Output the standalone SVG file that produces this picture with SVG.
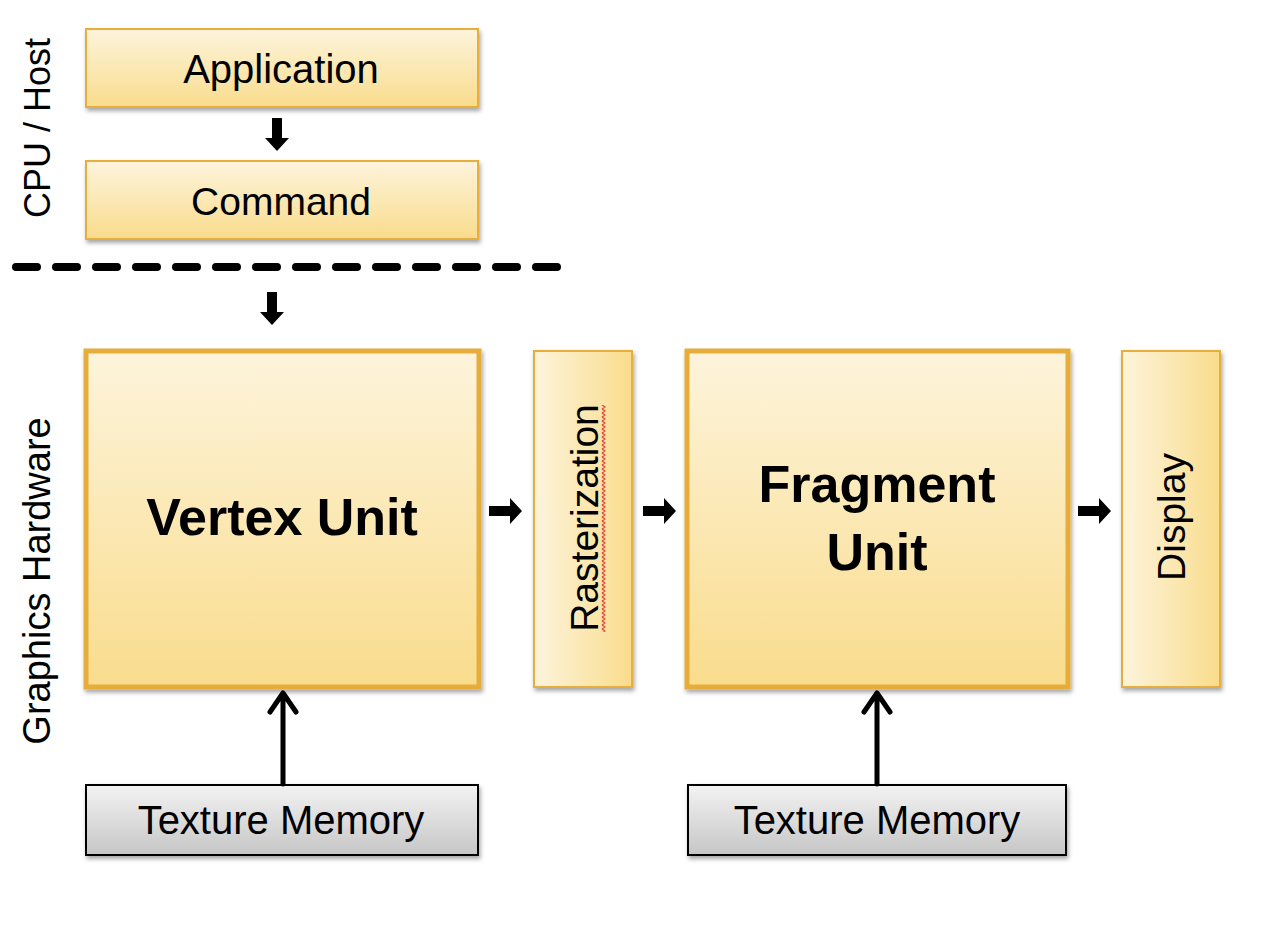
<svg xmlns="http://www.w3.org/2000/svg" width="1280" height="938" viewBox="0 0 1280 938">
<defs>
<linearGradient id="gv" x1="0" y1="0" x2="0" y2="1"><stop offset="0" stop-color="#fdf4dc"/><stop offset="1" stop-color="#f9dc8c"/></linearGradient>
<linearGradient id="gh" x1="0" y1="0" x2="1" y2="0"><stop offset="0" stop-color="#fdf4dc"/><stop offset="1" stop-color="#f9dc8c"/></linearGradient>
<linearGradient id="gg" x1="0" y1="0" x2="0" y2="1"><stop offset="0" stop-color="#f3f3f3"/><stop offset="1" stop-color="#c6c6c6"/></linearGradient>
<filter id="sh" x="-10%" y="-10%" width="120%" height="130%"><feDropShadow dx="1.5" dy="3" stdDeviation="2" flood-color="#000" flood-opacity="0.35"/></filter>
<pattern id="squig" x="601" y="405" width="5" height="4" patternUnits="userSpaceOnUse"><path d="M1,0 L4,2 L1,4" fill="none" stroke="#e8413a" stroke-width="1.3"/></pattern>
</defs>
<style>
.box{fill:url(#gv);stroke:#e8ae3a;stroke-width:2;filter:url(#sh)}
.big{fill:url(#gv);stroke:#e6ad3a;stroke-width:5;filter:url(#sh)}
.vbox{fill:url(#gh);stroke:#e8ae3a;stroke-width:2;filter:url(#sh)}
.mem{fill:url(#gg);stroke:#000;stroke-width:2;filter:url(#sh)}
.t{font-family:"Liberation Sans",Arial,sans-serif;font-size:39px;fill:#000;text-anchor:middle}
.b{font-family:"Liberation Sans",Arial,sans-serif;font-size:52px;font-weight:bold;fill:#000;text-anchor:middle}
.blk{fill:#000}
.ln{fill:none;stroke:#000;stroke-width:5;stroke-linecap:round;stroke-linejoin:round}
</style>
<g id="label-cpu"><text class="t" transform="translate(50,128) rotate(-90)" style="font-size:36px">CPU / Host</text></g>
<g id="label-gpu"><text class="t" transform="translate(50,581) rotate(-90)" style="font-size:38px">Graphics Hardware</text></g>
<g id="application"><rect class="box" x="86" y="29" width="392" height="78"/><text class="t" x="281" y="83" style="font-size:40px">Application</text></g>
<g id="command"><rect class="box" x="86" y="161" width="392" height="78"/><text class="t" x="281" y="215">Command</text></g>
<g id="vertex-unit"><rect class="big" x="86" y="351" width="393" height="336"/><text class="b" x="282" y="535">Vertex Unit</text></g>
<g id="rasterization"><rect class="vbox" x="534" y="351" width="98" height="336"/><text class="t" transform="translate(598,518) rotate(-90)">Rasterization</text><rect x="601" y="405" width="5" height="227" fill="url(#squig)"/></g>
<g id="fragment-unit"><rect class="big" x="687" y="351" width="381" height="336"/><text class="b" x="877" y="502">Fragment</text><text class="b" x="877" y="570">Unit</text></g>
<g id="display"><rect class="vbox" x="1122" y="351" width="98" height="336"/><text class="t" transform="translate(1185,517) rotate(-90)">Display</text></g>
<g id="texture-memory-1"><rect class="mem" x="86" y="785" width="392" height="70"/><text class="t" x="281" y="834" style="font-size:40px">Texture Memory</text></g>
<g id="texture-memory-2"><rect class="mem" x="688" y="785" width="378" height="70"/><text class="t" x="877" y="834" style="font-size:40px">Texture Memory</text></g>
<g id="connectors">
<line x1="16" y1="267" x2="557" y2="267" stroke="#000" stroke-width="8" stroke-linecap="round" stroke-dasharray="21 19"/>
<path class="blk" d="M272,118 h10 v20 h7 l-12,13 l-12,-13 h7 z"/>
<path class="blk" d="M267,292 h10 v20 h7 l-12,13 l-12,-13 h7 z"/>
<path class="blk" d="M489,506 h21 v-8 l12,13 l-12,13 v-8 h-21 z"/>
<path class="blk" d="M643,506 h21 v-8 l12,13 l-12,13 v-8 h-21 z"/>
<path class="blk" d="M1078,506 h21 v-8 l12,13 l-12,13 v-8 h-21 z"/>
<path class="ln" d="M283,784 V693 M270,712 L283,693 L296,712"/>
<path class="ln" d="M877,784 V693 M864,712 L877,693 L890,712"/>
</g>
</svg>
